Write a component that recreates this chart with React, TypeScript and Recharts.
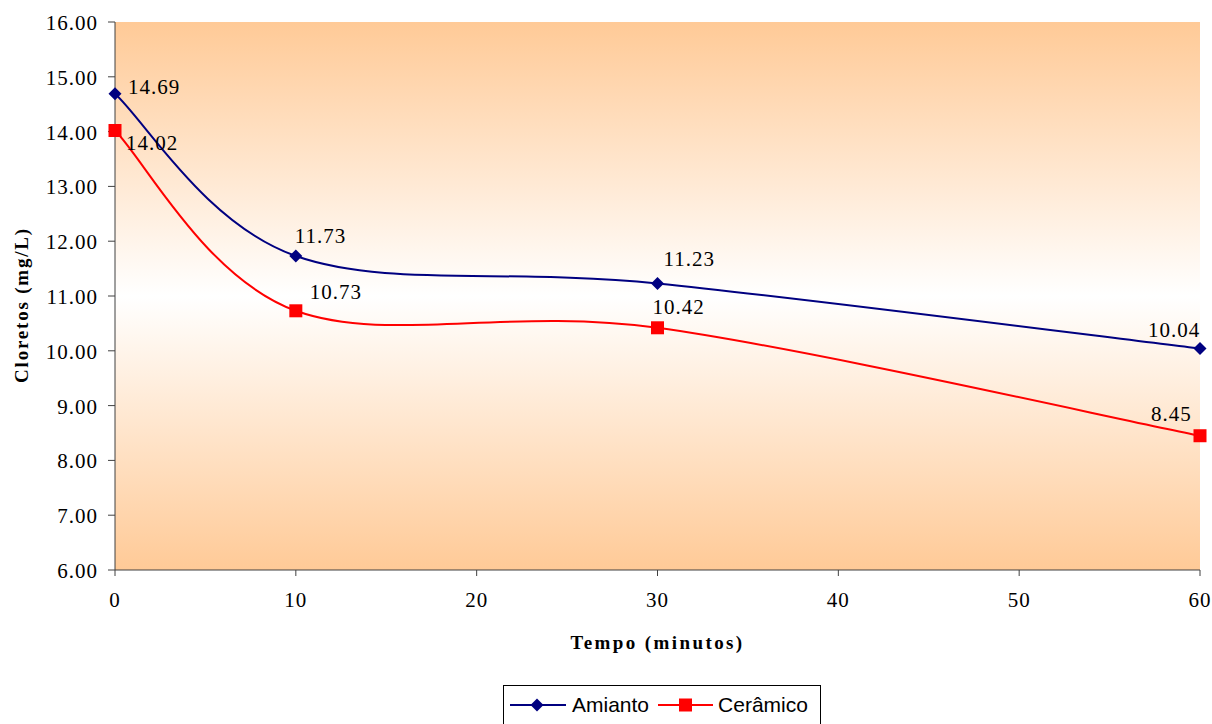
import React from 'react';
import {
  LineChart,
  Line,
  XAxis,
  YAxis,
  CartesianGrid,
  LabelList,
} from 'recharts';

// Sampling times (minutes) and chloride readings (mg/L)
const minutes = [0, 10, 30, 60];
const amianto = [14.69, 11.73, 11.23, 10.04];
const ceramico = [14.02, 10.73, 10.42, 8.45];

const yTicks = [6, 7, 8, 9, 10, 11, 12, 13, 14, 15, 16];
const xTicks = [0, 10, 20, 30, 40, 50, 60];

// where each value label sits relative to its point [dx, dy]
const amiantoLabelOffset = [[13, 0], [-1, -13], [6, -17], [-52, -12]];
const ceramicoLabelOffset = [[11, 19], [14, -12], [-5, -14], [-49, -15]];

const BLUE = '#000080';
const RED = '#FF0000';
const SERIF = "'Liberation Serif', 'Times New Roman', serif";
const SANS = "'Liberation Sans', Arial, sans-serif";
const AXIS = '#404040';

const data = minutes.map((m, i) => ({
  tempo: m,
  amianto: amianto[i],
  ceramico: ceramico[i],
}));

// Spreadsheet-style smoothed line (cardinal spline, tension 0)
const smoothCurve: any = (context: any) => {
  let pts: number[][] = [];
  return {
    areaStart() {},
    areaEnd() {},
    lineStart() {
      pts = [];
    },
    point(x: number, y: number) {
      pts.push([+x, +y]);
    },
    lineEnd() {
      const n = pts.length;
      if (!n) return;
      context.moveTo(pts[0][0], pts[0][1]);
      for (let i = 0; i < n - 1; i++) {
        const p0 = pts[Math.max(i - 1, 0)];
        const p1 = pts[i];
        const p2 = pts[i + 1];
        const p3 = pts[Math.min(i + 2, n - 1)];
        context.bezierCurveTo(
          p1[0] + (p2[0] - p0[0]) / 6,
          p1[1] + (p2[1] - p0[1]) / 6,
          p2[0] - (p3[0] - p1[0]) / 6,
          p2[1] - (p3[1] - p1[1]) / 6,
          p2[0],
          p2[1]
        );
      }
    },
  };
};

const Diamond = (props: any) => {
  const { cx, cy, index } = props;
  if (cx == null || cy == null) return <g key={index} />;
  const r = 6.5;
  return (
    <path
      key={index}
      d={`M${cx},${cy - r}L${cx + r},${cy}L${cx},${cy + r}L${cx - r},${cy}Z`}
      fill={BLUE}
    />
  );
};

const Square = (props: any) => {
  const { cx, cy, index } = props;
  if (cx == null || cy == null) return <g key={index} />;
  return <rect key={index} x={cx - 6.5} y={cy - 6.5} width={13} height={13} fill={RED} />;
};

const valueLabel = (offsets: number[][]) => (props: any) => {
  const { x, y, value, index } = props;
  const [dx, dy] = offsets[index] || [0, 0];
  return (
    <text
      x={x + dx}
      y={y + dy}
      fontFamily={SERIF}
      fontSize={21}
      letterSpacing={1}
      fill="#000"
    >
      {Number(value).toFixed(2)}
    </text>
  );
};

const YTick = (props: any) => {
  const { x, y, payload } = props;
  return (
    <text x={x - 8} y={y + 8} textAnchor="end" fontFamily={SERIF} fontSize={21} letterSpacing={1} fill="#000">
      {Number(payload.value).toFixed(2)}
    </text>
  );
};

const XTick = (props: any) => {
  const { x, y, payload } = props;
  return (
    <text x={x} y={y + 29} textAnchor="middle" fontFamily={SERIF} fontSize={21} letterSpacing={1} fill="#000">
      {payload.value}
    </text>
  );
};

const XTitle = (props: any) => {
  const { viewBox } = props;
  return (
    <text
      x={viewBox.x + viewBox.width / 2}
      y={viewBox.y + 79}
      textAnchor="middle"
      fontFamily={SERIF}
      fontSize={19}
      fontWeight="bold"
      letterSpacing={2.4}
      fill="#000"
    >
      Tempo (minutos)
    </text>
  );
};

const YTitle = (props: any) => {
  const { viewBox } = props;
  const cx = 28;
  const cy = viewBox.y + viewBox.height / 2 + 9;
  return (
    <text
      x={cx}
      y={cy}
      transform={`rotate(-90 ${cx} ${cy})`}
      textAnchor="middle"
      fontFamily={SERIF}
      fontSize={19}
      fontWeight="bold"
      letterSpacing={1.8}
      fill="#000"
    >
      Cloretos (mg/L)
    </text>
  );
};

const LegendBox = () => (
  <div
    style={{
      position: 'absolute',
      left: 503,
      top: 685,
      width: 318,
      height: 40,
      border: '1px solid #000',
      boxSizing: 'border-box',
      background: '#fff',
      display: 'flex',
      alignItems: 'center',
      fontFamily: SANS,
      fontSize: 21,
      color: '#000',
    }}
  >
    <svg width={56} height={16} style={{ marginLeft: 6 }}>
      <line x1={0} y1={8} x2={56} y2={8} stroke={BLUE} strokeWidth={2} />
      <path d="M27,1.5L33.5,8L27,14.5L20.5,8Z" fill={BLUE} />
    </svg>
    <span style={{ marginLeft: 6 }}>Amianto</span>
    <svg width={55} height={16} style={{ marginLeft: 9 }}>
      <line x1={0} y1={8} x2={55} y2={8} stroke={RED} strokeWidth={2} />
      <rect x={21} y={1.5} width={13} height={13} fill={RED} />
    </svg>
    <span style={{ marginLeft: 5 }}>Cerâmico</span>
  </div>
);

const App = () => {
  return (
    <div style={{ position: 'absolute', left: 0, top: 0, width: 1212, height: 724, background: '#fff' }}>
      <LineChart
        width={1212}
        height={724}
        data={data}
        margin={{ top: 22, right: 12, left: 20, bottom: 84 }}
      >
        <defs>
          <linearGradient id="plotBg" x1="0" y1="0" x2="0" y2="1">
            <stop offset="0%" stopColor="#FFCA97" />
            <stop offset="50%" stopColor="#FFFFFF" />
            <stop offset="100%" stopColor="#FFCA97" />
          </linearGradient>
        </defs>
        <CartesianGrid horizontal={false} vertical={false} fill="url(#plotBg)" />
        <XAxis
          dataKey="tempo"
          type="number"
          domain={[0, 60]}
          ticks={xTicks}
          height={70}
          tickSize={6}
          stroke={AXIS}
          tick={<XTick />}
          label={<XTitle />}
        />
        <YAxis
          type="number"
          domain={[6, 16]}
          ticks={yTicks}
          width={95}
          tickSize={7}
          stroke={AXIS}
          tick={<YTick />}
          label={<YTitle />}
        />
        <Line
          dataKey="amianto"
          type={smoothCurve}
          stroke={BLUE}
          strokeWidth={2}
          dot={Diamond}
          activeDot={false}
          isAnimationActive={false}
        >
          <LabelList dataKey="amianto" content={valueLabel(amiantoLabelOffset)} />
        </Line>
        <Line
          dataKey="ceramico"
          type={smoothCurve}
          stroke={RED}
          strokeWidth={2}
          dot={Square}
          activeDot={false}
          isAnimationActive={false}
        >
          <LabelList dataKey="ceramico" content={valueLabel(ceramicoLabelOffset)} />
        </Line>
      </LineChart>
      <LegendBox />
    </div>
  );
};

export default App;
